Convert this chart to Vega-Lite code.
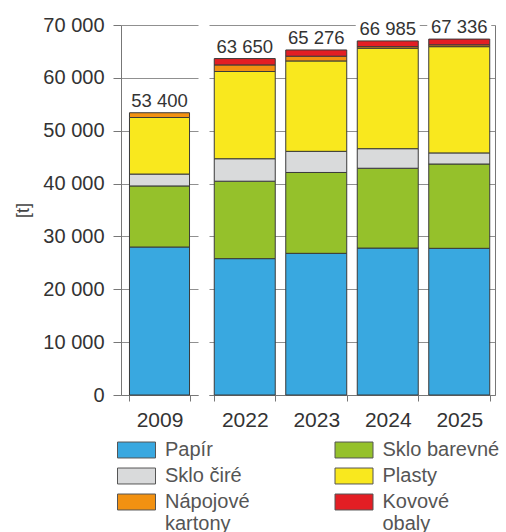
{
  "$schema": "https://vega.github.io/schema/vega-lite/v6.json",
  "background": "white",
  "padding": {"left": 14, "top": 15, "right": 2, "bottom": 0},
  "data": {
    "values": [
      {"rok": "2009", "druh": "Papír", "t": 28000},
      {"rok": "2009", "druh": "Sklo barevné", "t": 11550},
      {"rok": "2009", "druh": "Sklo čiré", "t": 2250},
      {"rok": "2009", "druh": "Plasty", "t": 10700},
      {"rok": "2009", "druh": "Nápojové kartony", "t": 900},
      {"rok": "2022", "druh": "Papír", "t": 25800},
      {"rok": "2022", "druh": "Sklo barevné", "t": 14650},
      {"rok": "2022", "druh": "Sklo čiré", "t": 4250},
      {"rok": "2022", "druh": "Plasty", "t": 16500},
      {"rok": "2022", "druh": "Nápojové kartony", "t": 1250},
      {"rok": "2022", "druh": "Kovové obaly", "t": 1200},
      {"rok": "2023", "druh": "Papír", "t": 26800},
      {"rok": "2023", "druh": "Sklo barevné", "t": 15300},
      {"rok": "2023", "druh": "Sklo čiré", "t": 4000},
      {"rok": "2023", "druh": "Plasty", "t": 17100},
      {"rok": "2023", "druh": "Nápojové kartony", "t": 900},
      {"rok": "2023", "druh": "Kovové obaly", "t": 1176},
      {"rok": "2024", "druh": "Papír", "t": 27800},
      {"rok": "2024", "druh": "Sklo barevné", "t": 15100},
      {"rok": "2024", "druh": "Sklo čiré", "t": 3700},
      {"rok": "2024", "druh": "Plasty", "t": 19000},
      {"rok": "2024", "druh": "Nápojové kartony", "t": 300},
      {"rok": "2024", "druh": "Kovové obaly", "t": 1085},
      {"rok": "2025", "druh": "Papír", "t": 27750},
      {"rok": "2025", "druh": "Sklo barevné", "t": 15950},
      {"rok": "2025", "druh": "Sklo čiré", "t": 2100},
      {"rok": "2025", "druh": "Plasty", "t": 20100},
      {"rok": "2025", "druh": "Nápojové kartony", "t": 350},
      {"rok": "2025", "druh": "Kovové obaly", "t": 1086}
    ]
  },
  "transform": [
    {"calculate": "indexof(['Papír', 'Sklo barevné', 'Sklo čiré', 'Plasty', 'Nápojové kartony', 'Kovové obaly'], datum.druh)", "as": "poradi"}
  ],
  "spacing": 11,
  "hconcat": [
    {
      "width": 77,
      "height": 370,
      "transform": [{"filter": "datum.rok == '2009'"}],
      "encoding": {
        "x": {
          "field": "rok", "type": "nominal", "title": null,
          "scale": {"paddingInner": 0.221, "paddingOuter": 0.11},
          "axis": {"labelAngle": 0, "tickBand": "extent", "labelFontSize": 21, "labelColor": "#333", "labelPadding": 8, "tickSize": 6, "domainColor": "#777", "tickColor": "#777"}
        }
      },
      "layer": [
        {
          "mark": {"type": "bar", "stroke": "#3a3a3a", "strokeWidth": 1},
          "encoding": {
            "y": {
              "field": "t", "type": "quantitative", "stack": "zero",
              "scale": {"domain": [0, 70000], "nice": false},
              "axis": {
                "values": [0, 10000, 20000, 30000, 40000, 50000, 60000, 70000],
                "labelExpr": "replace(format(datum.value, ','), ',', ' ')",
                "title": "[t]", "titleFontSize": 18, "titleFontWeight": "normal", "titleColor": "#444", "titlePadding": 10,
                "grid": true, "gridColor": "#909090", "gridWidth": 1.2,
                "domainColor": "#777", "tickColor": "#777", "tickSize": 8,
                "labelPadding": 9, "labelFontSize": 20, "labelColor": "#333"
              }
            },
            "color": {
              "field": "druh", "type": "nominal",
              "scale": {
                "domain": ["Papír", "Sklo barevné", "Sklo čiré", "Plasty", "Nápojové kartony", "Kovové obaly"],
                "range": ["#39a8e0", "#95c12b", "#d9dadb", "#f9e81e", "#f29111", "#e31e24"]
              },
              "legend": {
                "labelExpr": "datum.label == 'Nápojové kartony' ? ['Nápojové', 'kartony'] : datum.label == 'Kovové obaly' ? ['Kovové', 'obaly'] : datum.label"
              }
            },
            "order": {"field": "poradi", "type": "quantitative"}
          }
        },
        {
          "transform": [
            {"aggregate": [{"op": "sum", "field": "t", "as": "celkem"}], "groupby": ["rok"]},
            {"calculate": "replace(format(datum.celkem, ','), ',', ' ')", "as": "popisek"}
          ],
          "encoding": {"y": {"field": "celkem", "type": "quantitative"}},
          "layer": [
            {"mark": {"type": "point", "shape": "M-1,-0.72H1V-0.12H-1Z", "size": 4096, "filled": true, "fill": "white", "opacity": 1, "strokeWidth": 0}},
            {"mark": {"type": "text", "baseline": "alphabetic", "dy": -6, "fontSize": 18.5, "color": "#333"}, "encoding": {"text": {"field": "popisek"}}}
          ]
        }
      ]
    },
    {
      "width": 286,
      "height": 370,
      "transform": [{"filter": "datum.rok != '2009'"}],
      "encoding": {
        "x": {
          "field": "rok", "type": "nominal", "title": null,
          "scale": {"paddingInner": 0.147, "paddingOuter": 0.0735},
          "axis": {"labelAngle": 0, "tickBand": "extent", "labelFontSize": 21, "labelColor": "#333", "labelPadding": 8, "tickSize": 6, "domainColor": "#777", "tickColor": "#777"}
        }
      },
      "layer": [
        {
          "mark": {"type": "bar", "stroke": "#3a3a3a", "strokeWidth": 1},
          "encoding": {
            "y": {
              "field": "t", "type": "quantitative", "stack": "zero",
              "scale": {"domain": [0, 70000], "nice": false},
              "axis": {
                "orient": "right",
                "values": [0, 10000, 20000, 30000, 40000, 50000, 60000, 70000],
                "labels": false, "ticks": false, "title": null,
                "grid": true, "gridColor": "#909090", "gridWidth": 1.2,
                "domainColor": "#777"
              }
            },
            "color": {
              "field": "druh", "type": "nominal",
              "scale": {
                "domain": ["Papír", "Sklo barevné", "Sklo čiré", "Plasty", "Nápojové kartony", "Kovové obaly"],
                "range": ["#39a8e0", "#95c12b", "#d9dadb", "#f9e81e", "#f29111", "#e31e24"]
              }
            },
            "order": {"field": "poradi", "type": "quantitative"}
          }
        },
        {
          "transform": [
            {"aggregate": [{"op": "sum", "field": "t", "as": "celkem"}], "groupby": ["rok"]},
            {"calculate": "replace(format(datum.celkem, ','), ',', ' ')", "as": "popisek"}
          ],
          "encoding": {"y": {"field": "celkem", "type": "quantitative"}},
          "layer": [
            {"mark": {"type": "point", "shape": "M-1,-0.72H1V-0.12H-1Z", "size": 4096, "filled": true, "fill": "white", "opacity": 1, "strokeWidth": 0}},
            {"mark": {"type": "text", "baseline": "alphabetic", "dy": -6, "fontSize": 18.5, "color": "#333"}, "encoding": {"text": {"field": "popisek"}}}
          ]
        }
      ]
    }
  ],
  "resolve": {"scale": {"x": "independent", "y": "shared", "color": "shared"}},
  "config": {
    "font": "Liberation Sans",
    "view": {"stroke": null},
    "legend": {
      "orient": "none", "legendX": 5.5, "legendY": 415,
      "direction": "horizontal",
      "columns": 2, "title": null,
      "symbolType": "M-2,-0.84H2V0.84H-2Z", "symbolSize": 361,
      "symbolStrokeColor": "#555", "symbolStrokeWidth": 1, "symbolOpacity": 1,
      "labelFontSize": 20, "labelColor": "#555", "labelOffset": 18.5, "labelLimit": 220,
      "rowPadding": 6, "columnPadding": 82.5
    }
  }
}
